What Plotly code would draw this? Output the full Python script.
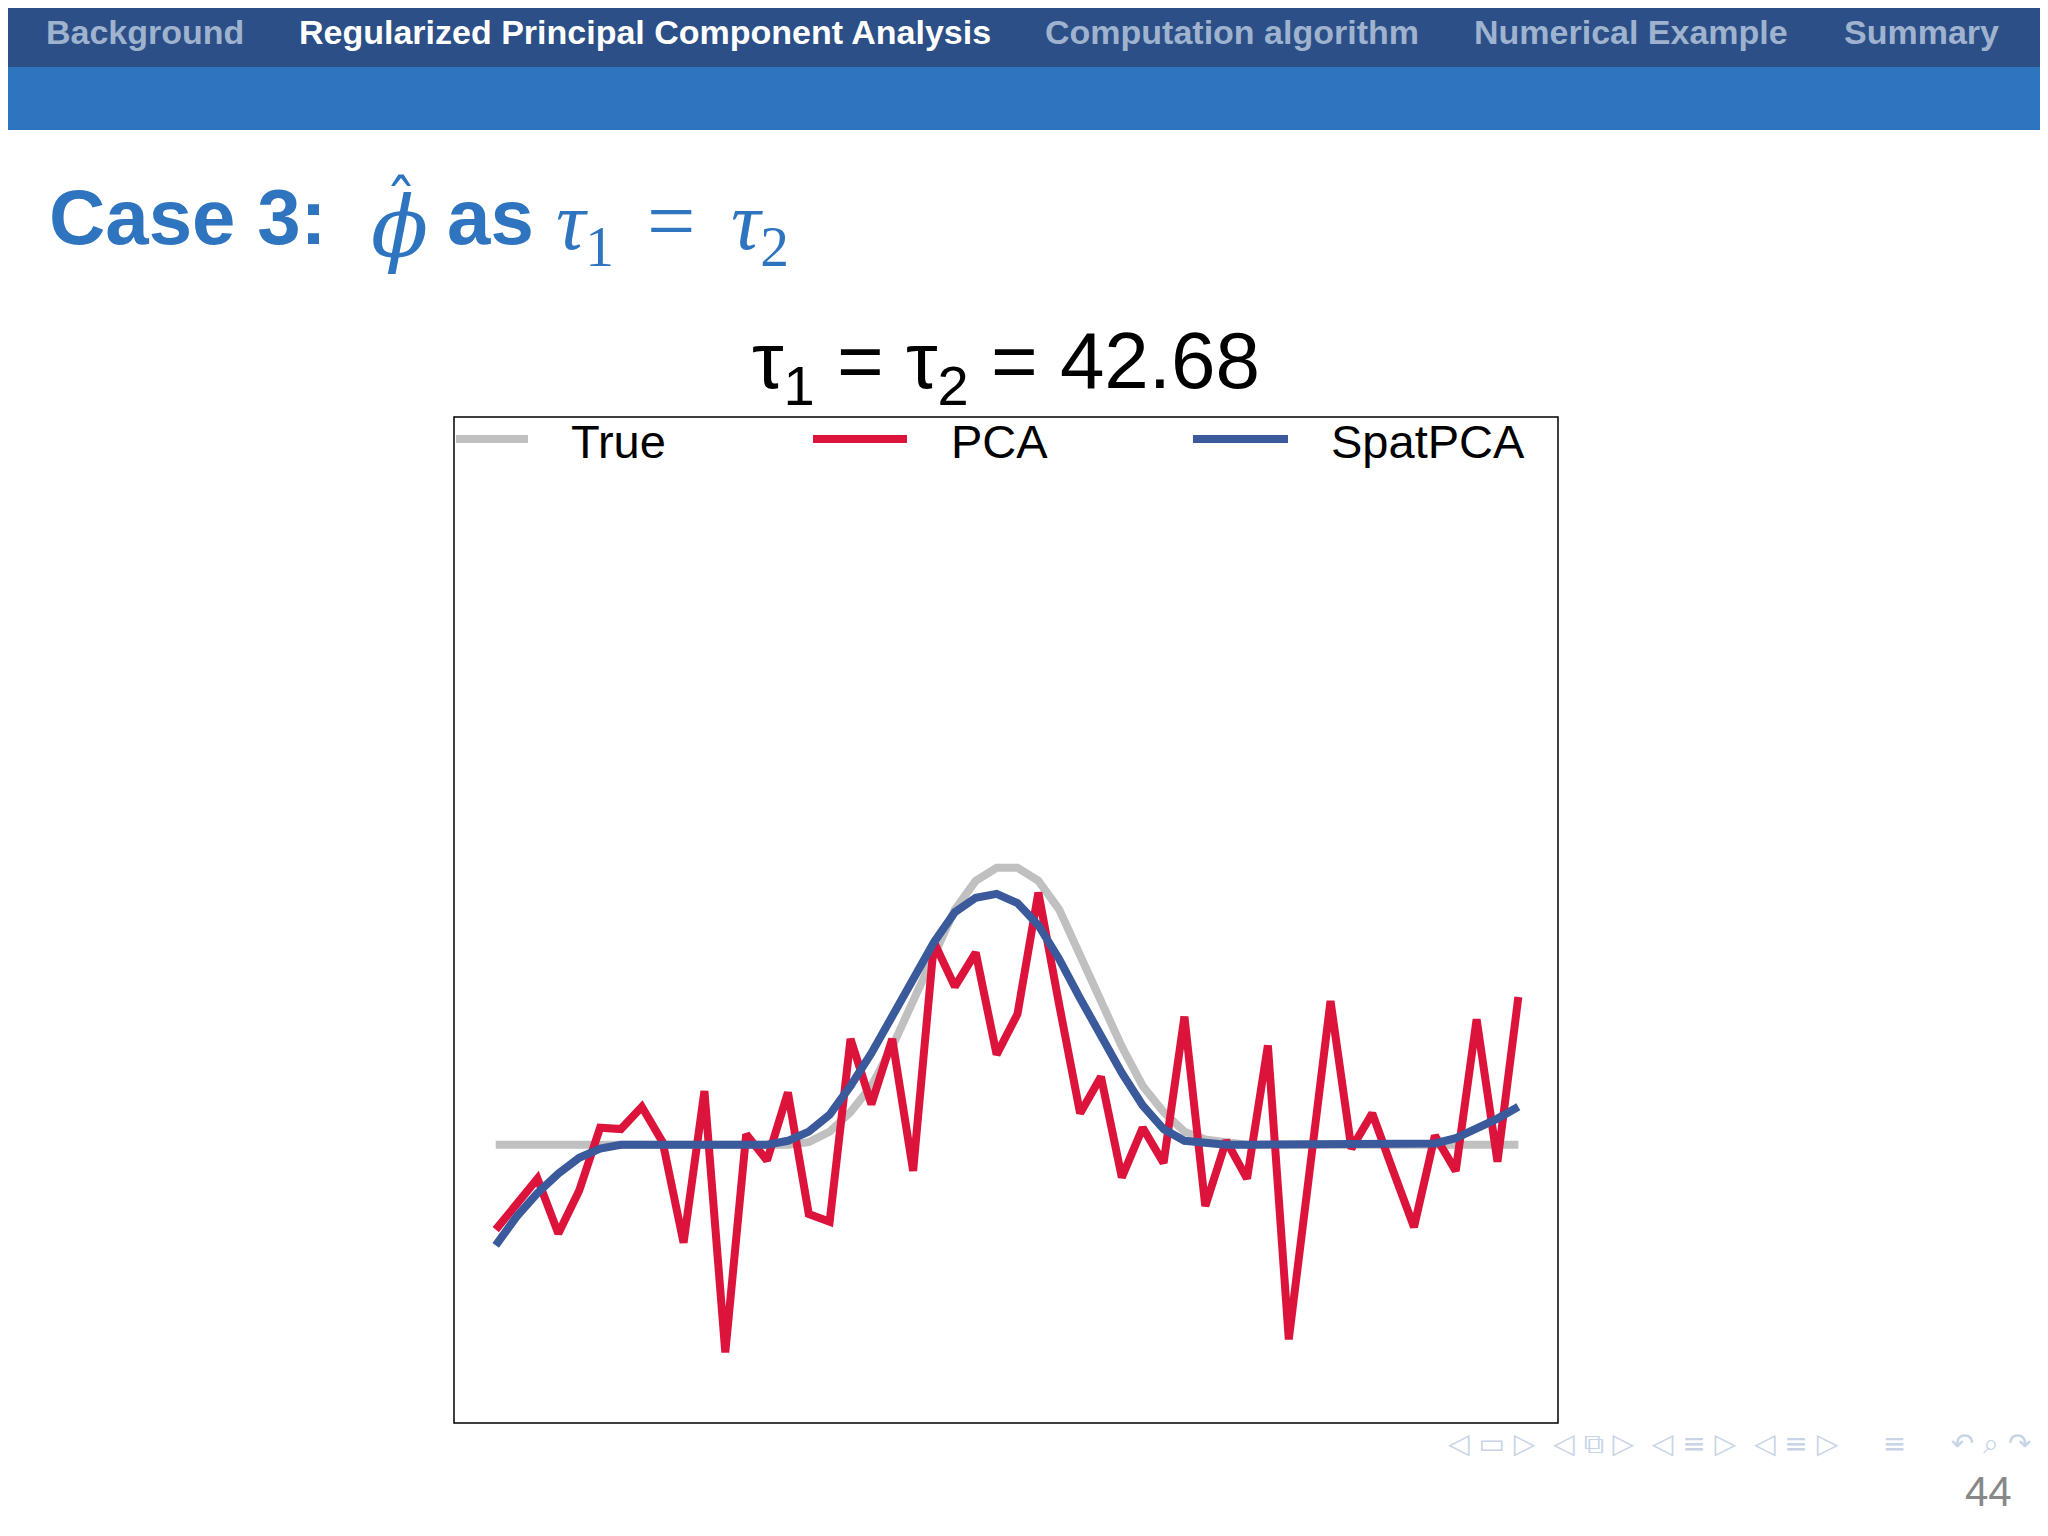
import plotly.graph_objects as go

idx = list(range(50))
true_vals = [0]*15 + [0.02,0.1,0.25,0.45,0.75,1.1,1.45,1.8,2.02,2.12,2.12,2.02,1.8,1.45,1.1,0.75,0.45,0.25,0.1,0.04,0.02] + [0]*14
pca_y_px = [942,922,903,945,912,864,865,848,875,952,836,1036,869,889,837,930,936,796,846,796,
            897,722,756,730,808,777,684,770,853,825,902,864,891,779,924,874,903,801,1026,897,
            767,880,853,897,940,870,897,781,890,764]
pca_vals = [round((877-v)/100, 2) for v in pca_y_px]
spat_vals = [-0.77,-0.55,-0.37,-0.22,-0.1,-0.03,0,0,0,0,0,0,0,0,0.03,0.1,0.23,0.45,0.7,0.98,
             1.27,1.55,1.78,1.89,1.92,1.85,1.68,1.42,1.12,0.82,0.55,0.3,0.12,0.03,0.01,0,0,0,0,0,
             0,0,0,0,0,0.01,0.05,0.12,0.2,0.29]
nav_items = ["Background", "Regularized Principal Component Analysis", "Computation algorithm",
             "Numerical Example", "Summary"]
nav_x = [146, 646, 1233, 1632, 1922]

W, H = 2048, 1536
OFF = 9  # page body margin compensation
L, R, T, B = 455 - OFF, 1559 - OFF, 418 - OFF, 1424 - OFF
fig = go.Figure()
fig.add_trace(go.Scatter(x=idx, y=true_vals, mode="lines", line=dict(color="#c0c0c0", width=8), name="True"))
fig.add_trace(go.Scatter(x=idx, y=pca_vals, mode="lines", line=dict(color="#dc143c", width=8), name="PCA"))
fig.add_trace(go.Scatter(x=idx, y=spat_vals, mode="lines", line=dict(color="#3a5a9c", width=8), name="SpatPCA"))

def pxr(xp): return (xp - OFF - L) / (R - L)
def pyr(yp): return (B - (yp - OFF)) / (B - T)

shapes = []
shapes.append(dict(type="rect", xref="paper", yref="paper", x0=pxr(-20), x1=pxr(W + 20), y0=pyr(68), y1=pyr(-20),
                   fillcolor="#2b4f86", line_width=0, layer="below"))
shapes.append(dict(type="rect", xref="paper", yref="paper", x0=pxr(-20), x1=pxr(W + 20), y0=pyr(131), y1=pyr(68),
                   fillcolor="#2e74bf", line_width=0, layer="below"))
shapes.append(dict(type="rect", xref="paper", yref="paper", x0=0, x1=1, y0=0, y1=1,
                   line=dict(color="black", width=1.5)))
leg = [("True", "#c0c0c0", 457, 529, 570), ("PCA", "#dc143c", 814, 908, 950), ("SpatPCA", "#3a5a9c", 1194, 1289, 1330)]
annotations = []
for name, col, x0, x1, tx in leg:
    shapes.append(dict(type="line", xref="paper", yref="paper", x0=pxr(x0), x1=pxr(x1), y0=pyr(440), y1=pyr(440),
                       line=dict(color=col, width=8)))
    annotations.append(dict(xref="paper", yref="paper", x=pxr(tx), y=pyr(442), text=name, showarrow=False,
                            xanchor="left", yanchor="middle", font=dict(size=47, color="black", family="Liberation Sans")))
for t, x in zip(nav_items, nav_x):
    annotations.append(dict(xref="paper", yref="paper", x=pxr(x), y=pyr(33), text="<b>"+t+"</b>", showarrow=False,
                            xanchor="center", yanchor="middle",
                            font=dict(size=34, family="Liberation Sans",
                                      color="white" if t.startswith("Regularized") else "#9fb3cf")))
blue = "#2e74bf"
def ann(x, y, text, size, fam, anchor="left"):
    annotations.append(dict(xref="paper", yref="paper", x=pxr(x), y=pyr(y), showarrow=False, xanchor=anchor,
                            yanchor="middle", text=text, font=dict(size=size, color=blue, family=fam)))
ann(48, 218, "<b>Case 3:</b>", 78, "Liberation Sans")
ann(370, 228, "<i>ϕ</i>", 84, "DejaVu Serif")
ann(402, 204, "ˆ", 64, "DejaVu Serif", "center")
ann(446, 218, "<b>as</b>", 78, "Liberation Sans")
ann(555, 228, "<i>τ</i><sub>1</sub>", 82, "Liberation Serif")
ann(646, 222, "=", 86, "Liberation Serif")
ann(730, 228, "<i>τ</i><sub>2</sub>", 82, "Liberation Serif")
annotations.append(dict(xref="paper", yref="paper", x=0.5, y=pyr(368), showarrow=False, xanchor="center", yanchor="middle",
    text="τ<sub>1</sub> = τ<sub>2</sub> = 42.68", font=dict(size=80, color="black", family="Liberation Sans")))
annotations.append(dict(xref="paper", yref="paper", x=pxr(1740), y=pyr(1444), showarrow=False, xanchor="center", yanchor="middle",
    text="◁ ▭ ▷  ◁ ⧉ ▷  ◁ ≡ ▷  ◁ ≡ ▷     ≡     ↶ ⌕ ↷", font=dict(size=28, color="#c8d4e6", family="DejaVu Sans")))
annotations.append(dict(xref="paper", yref="paper", x=pxr(2015), y=pyr(1492), showarrow=False, xanchor="right", yanchor="middle",
    text="44", font=dict(size=42, color="#888888", family="Liberation Sans")))

fig.update_layout(width=W, height=H, margin=dict(l=L, r=W-R, t=T, b=H-B),
                  paper_bgcolor="white", plot_bgcolor="white", showlegend=False,
                  shapes=shapes, annotations=annotations)
fig.update_xaxes(range=[-2, 50.9], visible=False)
fig.update_yaxes(range=[-2.13, 5.57], visible=False)
fig.write_html("out.html")
